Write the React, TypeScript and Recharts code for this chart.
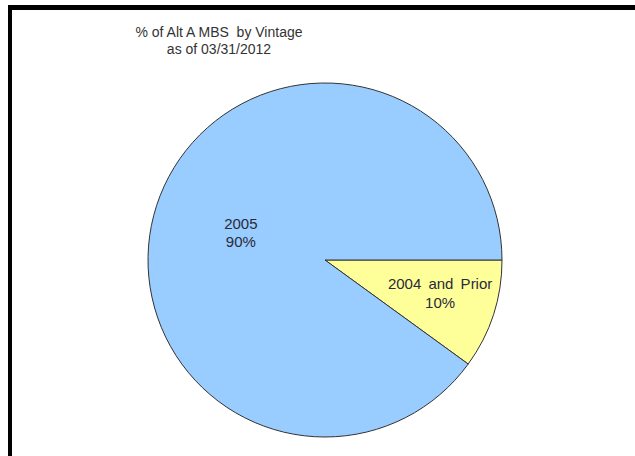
import { PieChart, Pie, Cell } from 'recharts';

const vintages = ['2004 and Prior', '2005'];
const shares = [10, 90];
const sliceColors = ['#FFFF99', '#99CCFF'];
const titleLines = ['% of Alt A MBS  by Vintage', 'as of 03/31/2012'];

const data = vintages.map((name, i) => ({ name, value: shares[i] }));

const RAD = Math.PI / 180;
const FONT = 'Arial, "Liberation Sans", sans-serif';

const renderLabel = (props: any) => {
  const { cx, cy, midAngle, outerRadius, name, percent } = props;
  const small = percent < 0.2;
  const r = outerRadius * (small ? 0.66 : 0.5);
  const x = cx + r * Math.cos(-midAngle * RAD) + (small ? 4 : 0);
  const y = cy + r * Math.sin(-midAngle * RAD) - (small ? 3 : 0);
  return (
    <text
      x={x}
      y={y}
      textAnchor="middle"
      fontFamily={FONT}
      fontSize={15}
      wordSpacing={3}
      fill="#2a2a3a"
    >
      <tspan x={x} dy={-4}>{name}</tspan>
      <tspan x={x} dy={18.5}>{`${Math.round(percent * 100)}%`}</tspan>
    </text>
  );
};

export default function App() {
  return (
    <div
      style={{
        position: 'absolute',
        left: 0,
        top: 0,
        width: 635,
        height: 456,
        background: '#fff',
        overflow: 'hidden'
      }}
    >
      <div
        style={{
          position: 'absolute',
          left: 8,
          top: 5,
          width: 700,
          height: 500,
          borderTop: '5px solid #000',
          borderLeft: '4px solid #000'
        }}
      />
      <div
        style={{
          position: 'absolute',
          left: 119,
          top: 24,
          width: 200,
          textAlign: 'center',
          fontFamily: FONT,
          fontSize: 14,
          lineHeight: '17px',
          color: '#333',
          whiteSpace: 'pre'
        }}
      >
        {titleLines.map((t) => (
          <div key={t}>{t}</div>
        ))}
      </div>
      <div style={{ position: 'absolute', left: 0, top: 0 }}>
        <PieChart width={635} height={456} margin={{ top: 0, right: 0, bottom: 0, left: 0 }}>
          <Pie
            data={data}
            dataKey="value"
            nameKey="name"
            cx={325}
            cy={260}
            outerRadius={177}
            startAngle={0}
            endAngle={-360}
            stroke="#333"
            strokeWidth={1}
            labelLine={false}
            label={renderLabel}
            isAnimationActive={false}
          >
            {data.map((d, i) => (
              <Cell key={d.name} fill={sliceColors[i]} />
            ))}
          </Pie>
        </PieChart>
      </div>
    </div>
  );
}
